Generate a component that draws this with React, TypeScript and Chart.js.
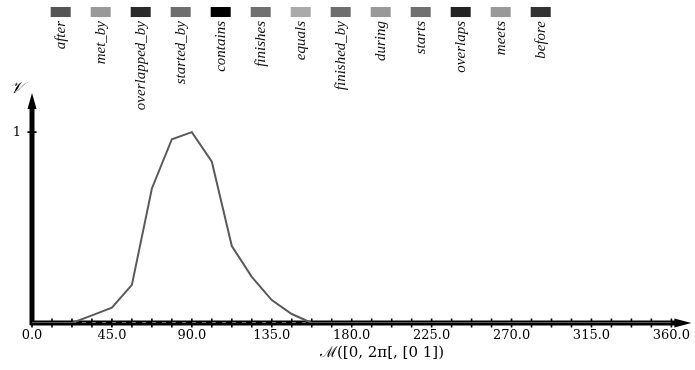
import React, { useEffect, useRef } from "react";
import { Chart, registerables } from "chart.js";

Chart.register(...registerables);

const relations = [
  "after", "met_by", "overlapped_by", "started_by", "contains", "finishes", "equals",
  "finished_by", "during", "starts", "overlaps", "meets", "before",
];
const relationColors = [
  "#555555", "#999999", "#2a2a2a", "#6e6e6e", "#000000", "#707070", "#aaaaaa",
  "#6e6e6e", "#999999", "#707070", "#222222", "#999999", "#333333",
];
const angles = [
  0, 11.25, 22.5, 33.75, 45, 56.25, 67.5, 78.75, 90, 101.25, 112.5, 123.75, 135, 146.25, 157.5,
  168.75, 180, 191.25, 202.5, 213.75, 225, 236.25, 247.5, 258.75, 270, 281.25, 292.5, 303.75,
  315, 326.25, 337.5, 348.75, 360,
];
const afterValues = [
  0, 0, 0, 0.04, 0.08, 0.2, 0.705, 0.963, 1.0, 0.845, 0.403, 0.242, 0.12, 0.047, 0,
  0, 0, 0, 0, 0, 0, 0, 0, 0, 0, 0, 0, 0, 0, 0, 0, 0, 0,
];
const zeroValues = [
  0, 0, 0, 0, 0, 0, 0, 0, 0, 0, 0, 0, 0, 0, 0, 0, 0, 0, 0, 0, 0, 0, 0, 0, 0, 0, 0, 0, 0, 0, 0, 0, 0,
];
const xLabelTicks = [0, 45, 90, 135, 180, 225, 270, 315, 360];
const yLabelTicks = [1];
const xTitle = "\u2133([0, 2\u03c0[, [0 1])";
const yTitle = "\ud835\udcb1";

const axisPlugin = {
  id: "arrowAxes",
  beforeDatasetsDraw(chart: any) {
    const ctx = chart.ctx;
    const xs = chart.scales.x;
    const ys = chart.scales.y;
    const x0 = xs.getPixelForValue(0);
    const y0 = ys.getPixelForValue(0);
    ctx.save();
    ctx.strokeStyle = "#000";
    ctx.fillStyle = "#000";
    ctx.lineWidth = 5;
    ctx.beginPath();
    ctx.moveTo(x0 - 2, y0);
    ctx.lineTo(xs.right + 6, y0);
    ctx.moveTo(x0, y0 + 2);
    ctx.lineTo(x0, ys.top + 12);
    ctx.stroke();
    // arrow heads
    ctx.beginPath();
    ctx.moveTo(xs.right + 20, y0);
    ctx.lineTo(xs.right + 3, y0 - 4.5);
    ctx.lineTo(xs.right + 3, y0 + 4.5);
    ctx.closePath();
    ctx.fill();
    ctx.beginPath();
    ctx.moveTo(x0, ys.top - 1);
    ctx.lineTo(x0 - 4.5, ys.top + 15);
    ctx.lineTo(x0 + 4.5, ys.top + 15);
    ctx.closePath();
    ctx.fill();
    // tick marks
    ctx.lineWidth = 1.6;
    ctx.beginPath();
    xs.ticks.forEach((t: any) => {
      const px = xs.getPixelForValue(t.value);
      ctx.moveTo(px, y0 - 4.5);
      ctx.lineTo(px, y0 + 4.5);
    });
    yLabelTicks.forEach((v) => {
      const py = ys.getPixelForValue(v);
      ctx.moveTo(x0 - 4.5, py);
      ctx.lineTo(x0 + 4.5, py);
    });
    ctx.stroke();
    ctx.restore();
  },
  afterDraw(chart: any) {
    const ctx = chart.ctx;
    ctx.save();
    // legend
    chart.data.datasets.forEach((ds: any, i: number) => {
      const bx = 50.7 + i * 40;
      ctx.fillStyle = ds.backgroundColor;
      ctx.fillRect(bx, 7, 20, 10);
      ctx.save();
      ctx.translate(bx + 10, 21);
      ctx.rotate(-Math.PI / 2);
      ctx.fillStyle = "#111";
      ctx.font = 'italic 15px "Liberation Serif"';
      ctx.textAlign = "right";
      ctx.textBaseline = "middle";
      ctx.fillText(ds.label, 0, 0);
      ctx.restore();
    });
    // axis titles
    ctx.fillStyle = "#000";
    ctx.font = '15px "DejaVu Serif"';
    ctx.textAlign = "center";
    ctx.textBaseline = "middle";
    ctx.fillText(xTitle, 382, 353);
    ctx.font = 'italic 16px "DejaVu Serif"';
    ctx.fillText(yTitle, 16, 89);
    ctx.restore();
  },
};

export default function App() {
  const ref = useRef<HTMLCanvasElement | null>(null);
  useEffect(() => {
    if (!ref.current) return;
    const datasets = relations.map((name, i) => ({
      label: name,
      data: angles.map((a, k) => ({ x: a, y: (i === 0 ? afterValues : zeroValues)[k] })),
      borderColor: i === 0 ? "#5a5a5a" : relationColors[i],
      backgroundColor: relationColors[i],
      borderWidth: i === 0 ? 2 : 1.2,
      borderDash: i === 0 ? [] : [4, 6],
      pointRadius: 0,
      tension: 0,
      fill: false,
    }));
    const chart = new Chart(ref.current, {
      type: "line",
      data: { datasets },
      options: {
        animation: false,
        responsive: false,
        layout: { padding: { top: 94, right: 23, bottom: 0, left: 0 } },
        plugins: { legend: { display: false }, tooltip: { enabled: false }, title: { display: false } },
        scales: {
          x: {
            type: "linear",
            min: 0,
            max: 360,
            grid: { display: false, drawTicks: false },
            border: { display: false },
            ticks: {
              stepSize: 11.25,
              autoSkip: false,
              maxRotation: 0,
              padding: 5,
              color: "#000",
              font: { family: '"DejaVu Serif"', size: 13 },
              callback: (v: any) => (xLabelTicks.includes(Number(v)) ? Number(v).toFixed(1) : ""),
            },
            afterFit: (axis: any) => {
              axis.height = 47;
            },
          },
          y: {
            min: 0,
            max: 1.2,
            grid: { display: false, drawTicks: false },
            border: { display: false },
            afterBuildTicks: (axis: any) => {
              axis.ticks = yLabelTicks.map((v) => ({ value: v }));
            },
            ticks: {
              padding: 11,
              color: "#000",
              font: { family: '"DejaVu Serif"', size: 13 },
              callback: (v: any) => String(v),
            },
            afterFit: (axis: any) => {
              axis.width = 32;
            },
          },
        },
      },
      plugins: [axisPlugin],
    });
    return () => chart.destroy();
  }, []);
  return (
    <div style={{ position: "fixed", left: 0, top: 0, width: 695, height: 370, background: "#fff" }}>
      <canvas ref={ref} width={695} height={370} />
    </div>
  );
}
